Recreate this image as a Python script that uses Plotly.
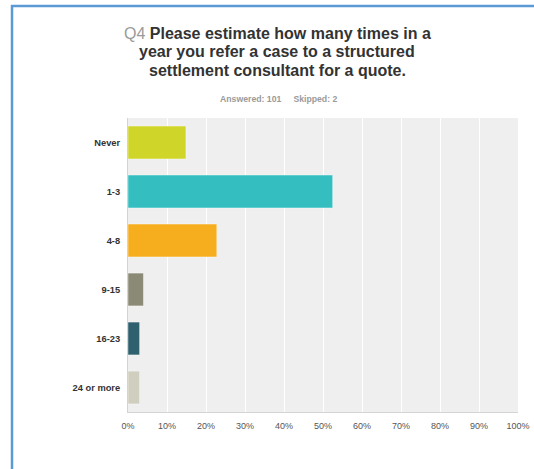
import plotly.graph_objects as go

categories = ["Never", "1-3", "4-8", "9-15", "16-23", "24 or more"]
values = [14.85, 52.48, 22.77, 3.96, 2.97, 2.97]
colors = ["#d0d52a", "#34bec0", "#f6ae1f", "#8b8a77", "#2e606e", "#d0cfbf"]
tick_vals = [0, 10, 20, 30, 40, 50, 60, 70, 80, 90, 100]
tick_text = [f"{v}%" for v in tick_vals]
title_lines = [
    '<span style="color:#9a9a9a;font-weight:normal">Q4</span> Please estimate how many times in a',
    'year you refer a case to a structured',
    'settlement consultant for a quote.',
]
subtitle = "Answered: 101&nbsp;&nbsp;&nbsp;&nbsp;&nbsp;Skipped: 2"

W, H = 534, 469
L, R, T, B = 128, 16, 118, 57
pw, ph = W - L - R, H - T - B

def px_x(x):
    return (x - L) / pw

def px_y(y):
    return (H - B - y) / ph

fig = go.Figure(go.Bar(
    x=values, y=categories, orientation="h",
    marker=dict(color=colors, line=dict(color="rgba(255,255,255,0.4)", width=1)),
    width=0.67, hoverinfo="x+y",
))

annotations = []
for i, (line, yc) in enumerate(zip(title_lines, [34, 52, 70])):
    annotations.append(dict(
        xref="paper", yref="paper", x=px_x(277), y=px_y(yc),
        xanchor="center", yanchor="middle", showarrow=False, text=line,
        font=dict(size=16, color="#333333", weight="bold")))
annotations.append(dict(
    xref="paper", yref="paper", x=px_x(278), y=px_y(99),
    xanchor="center", yanchor="middle", showarrow=False, text=subtitle,
    font=dict(size=8.7, color="#9a9a9a", weight="bold")))

fig.update_layout(
    width=W, height=H, autosize=False,
    margin=dict(l=L, r=R, t=T, b=B, autoexpand=False),
    paper_bgcolor="white", plot_bgcolor="#efefef",
    showlegend=False,
    font=dict(family="Liberation Sans, Arial, sans-serif"),
    xaxis=dict(range=[0, 100], tickvals=tick_vals, ticktext=tick_text,
               showgrid=True, gridcolor="#ffffff", gridwidth=1,
               zeroline=False, showline=True, linecolor="#d4d4d4", linewidth=1,
               ticks="", ticklabelstandoff=5, automargin=False,
               tickfont=dict(size=9, color="#555555")),
    yaxis=dict(autorange="reversed", showgrid=False, zeroline=False,
               showline=True, linecolor="#d4d4d4", linewidth=1,
               ticks="", ticklabelstandoff=5, automargin=False,
               tickfont=dict(size=9.3, color="#333333", weight="bold")),
    shapes=[
        dict(type="line", xref="paper", yref="paper",
             x0=px_x(11), x1=px_x(W + 5), y0=px_y(6), y1=px_y(6),
             line=dict(color="#5b9bd5", width=2.5)),
        dict(type="line", xref="paper", yref="paper",
             x0=px_x(12), x1=px_x(12), y0=px_y(5), y1=px_y(H + 5),
             line=dict(color="#5b9bd5", width=2.5)),
    ],
    annotations=annotations,
)

fig.write_html(
    "out.html",
    config={"displayModeBar": False, "responsive": False},
    post_script="document.body.style.margin='0';document.body.style.overflow='hidden';",
)
